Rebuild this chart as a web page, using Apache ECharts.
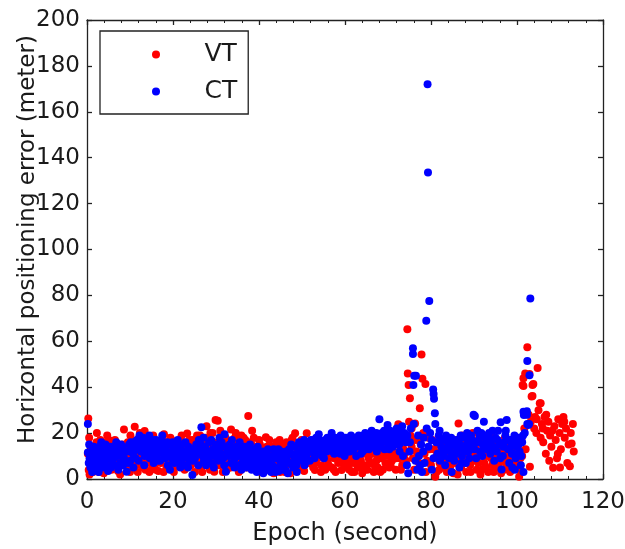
<!DOCTYPE html>
<html>
<head>
<meta charset="utf-8">
<script src="https://cdn.jsdelivr.net/npm/echarts@6/dist/echarts.min.js"></script>
<style>html,body{margin:0;padding:0;background:#fff;}#c{width:625px;height:549px;}</style>
</head>
<body>
<div id="c"></div>
<script>
var seriesNames = ['VT', 'CT'];
var xTicks = [0, 20, 40, 60, 80, 100, 120];
var yTicks = [0, 20, 40, 60, 80, 100, 120, 140, 160, 180, 200];

var vtData = [
[0.3,26.4],[0.2,11],[0.4,3.9],[0.6,2],[0.9,6],[1.1,9],[1.4,3],[1.7,14],[2.0,5],[2.2,16],[2.5,11],[2.8,3],[3.1,17],[3.3,8],[3.6,13],[3.9,2.5],[4.2,16],[4.5,10],[4.8,6],[5.1,17],[5.4,13],[5.7,4],[6.0,9],[6.3,15],[6.6,5],[6.9,12],[7.2,3.5],[7.5,10],[7.8,14],[8.1,6],[8.6,21.6],[8.9,11],[9.2,7],[9.5,16],[9.8,4],[10.1,19],[10.4,9],[10.7,13],[11.1,22.8],[11.4,6],[11.7,17],[12.0,11],[12.3,20],[12.6,8],[12.9,15],[13.4,20.9],[13.6,4],[13.9,10],[14.2,14],[14.5,3],[14.8,18],[15.1,6],[15.4,12],[15.7,5],[16.0,16],[16.3,9],[16.6,3.5],[16.9,13],[17.2,7],[17.5,17],[17.9,19.5],[18.2,11],[18.5,5],[18.8,14],[19.1,8],[19.4,18],[19.7,4],[20.0,12],[20.3,16],[20.6,9],[20.9,6],[21.2,14],[21.5,11],[21.8,17],[22.1,7],[22.4,12],[22.7,4],[23.0,15],[23.3,19.8],[23.6,9],[23.9,13],[24.2,6],[24.5,17],[24.8,10],[25.1,3],[25.4,14],[25.7,8],[26.0,12],[26.3,19],[26.6,5],[26.9,15],[27.2,10],[27.5,18],[27.8,23],[28.1,7],[28.4,13],[28.7,20],[29.0,9],[29.3,16],[29.6,3.2],[29.9,25.7],[30.2,11],[30.4,25.4],[30.7,6],[31.0,14],[31.3,19],[31.6,9],[31.9,17],[32.2,12],[32.5,4],[32.8,15],[33.1,8],[33.5,21.6],[33.8,13],[34.1,6],[34.4,18],[34.7,10],[35.0,15],[35.3,3],[35.6,12],[35.9,19],[36.2,8],[36.5,14],[36.8,17],[37.1,5],[37.5,27.5],[37.8,11],[38.1,16],[38.4,21],[38.7,9],[39.0,14],[39.3,4],[39.6,12],[39.9,7],[40.2,15],[40.5,3],[40.8,10],[41.1,13],[41.6,18.2],[41.9,6],[42.2,11],[42.5,4],[42.8,14],[43.1,8],[43.4,2.5],[43.7,12],[44.0,16],[44.3,6],[44.6,10],[44.9,3],[45.2,15],[45.5,8],[45.8,12],[46.1,5],[46.4,16],[46.7,9],[47.0,13],[47.3,2.5],[47.6,17],[47.9,7],[48.4,19.9],[48.7,11],[49.0,5],[49.3,14],[49.6,8],[49.9,17],[50.2,12],[50.5,3.5],[50.8,10],[51.1,19.9],[51.4,14],[51.7,7],[52.0,16],[52.3,11],[52.6,5],[53.0,3.9],[53.3,13],[53.6,9],[53.9,17],[54.2,12],[54.5,6],[54.8,15],[55.1,10],[55.4,4],[55.7,13],[56.0,8],[56.3,17],[56.6,11],[56.9,5],[57.2,14],[57.5,9],[57.8,3],[58.1,12],[58.4,7],[58.7,16],[59.2,3.9],[59.5,10],[59.8,13],[60.1,6],[60.4,9],[60.7,15],[61.0,4],[61.3,11],[61.6,7],[61.9,14],[62.2,3],[62.5,9],[62.8,12],[63.1,5],[63.4,16],[63.7,8],[64.0,2.5],[64.3,11],[64.6,6],[64.9,13],[65.2,4],[65.5,9],[65.8,15],[66.1,7],[66.4,11],[66.7,3],[67.0,14],[67.3,8],[67.6,5],[67.9,12],[68.2,16],[68.5,9],[68.8,4],[69.1,13],[69.4,7],[69.7,18],[70.0,10],[70.3,5],[70.6,14],[70.9,8],[71.2,17],[71.5,11],[71.8,4],[72.1,15],[72.4,23.9],[72.7,9],[73.0,13],[73.3,6],[73.6,19],[73.9,11],[74.2,16],[74.5,65.2],[74.6,46],[74.8,41],[75.1,35.2],[74.9,25],[75.2,19],[75.5,14],[75.8,9],[76.1,4],[76.3,24.2],[76.6,12],[76.9,17],[77.4,30.8],[77.8,54.2],[78.0,43.7],[78.7,41.4],[77.2,7],[77.6,15],[78.2,20],[78.5,11],[78.8,3],[79.1,8],[79.4,18],[79.7,13],[80.0,6],[80.3,17],[81.0,1],[81.3,10],[81.6,15],[81.9,4],[82.2,12],[82.5,8],[82.8,16],[83.1,5],[83.4,11],[83.7,3],[84.0,14],[84.3,9],[84.6,6],[84.9,12],[85.2,2.5],[85.5,17],[85.8,7],[86.1,10],[86.4,24.2],[86.7,13],[87.0,5],[87.3,19],[87.6,9],[87.9,14],[88.2,3],[88.5,11],[88.8,17],[89.1,6],[89.4,12],[89.7,20],[90.0,8],[90.3,15],[90.6,4],[90.9,10],[91.2,18],[91.5,2],[91.8,4],[92.1,13],[92.4,7],[92.7,16],[93.0,10],[93.3,3],[93.6,12],[93.9,19],[94.2,6],[94.5,14],[94.8,9],[95.1,17],[95.4,5],[95.7,11],[96.0,15],[96.3,2.5],[96.6,8],[96.9,13],[97.2,18],[97.5,6],[97.8,10],[98.1,15],[98.4,3],[98.7,12],[99.0,8],[99.3,16],[99.6,5],[99.9,11],[100.2,14],[100.5,1],[100.8,9],[101.1,18],[101.3,41],[101.5,43.9],[101.5,40.5],[101.9,46],[102.4,57.4],[102.9,45.7],[101.7,22],[102.0,13],[103.0,5.3],[103.4,35.9],[103.6,41],[103.6,36.2],[103.8,41.4],[104.2,27],[104.5,20],[104.8,48.4],[105.0,30],[105.3,33],[105.5,33],[105.8,24],[106.1,16],[106.4,27],[106.7,11],[107.0,21],[107.3,25],[107.7,19],[108.0,14],[108.4,4.9],[108.7,23],[109.0,17],[109.3,9],[109.6,26],[109.9,20],[110.2,13],[110.5,24],[110.8,27],[111.1,18],[111.4,22],[111.7,7],[112.0,15],[112.3,5.6],[112.7,15.5],[113.0,24],[113.2,12],[102.7,28],[103.2,25],[104.0,22],[104.6,26],[105.5,18],[106.0,22],[106.8,28],[107.5,8],[108.2,21],[109.5,11],[110.0,5],[111.0,25],[112.5,20],
[0.5,18],[1.0,13],[1.6,7],[2.3,20],[2.9,9],[3.5,4],[4.1,12],[4.7,19],[5.3,8],[5.9,13],[6.5,17],[7.1,8],[7.7,2],[8.3,15],[8.8,9],[9.4,13],[10.0,3],[10.6,16],[11.2,10],[11.8,3],[12.4,14],[13.0,5],[13.6,17],[14.2,8],[14.8,12],[15.4,19],[16.0,4],[16.6,12],[17.2,15],[17.8,3],[18.4,16],[19.0,12],[19.6,17],[20.2,3],[20.8,15],[21.4,8],[22.0,19],[22.6,10],[23.2,6],[23.8,17],[24.4,12],[25.0,16],[25.6,19],[26.2,8],[26.8,3],[27.4,12],[28.0,16],[28.6,4],[29.2,20],[29.8,11],[30.4,16],[31.0,21],[31.6,3],[32.2,18],[32.8,10],[33.4,5],[34.0,16],[34.6,20],[35.2,8],[35.8,4],[36.4,18],[37.0,12],[37.6,15],[38.2,5],[38.8,18],[39.4,10],[40.0,17],[40.6,6],[41.2,9],[41.8,14],[42.4,17],[43.0,11],[43.6,5],[44.2,13],[44.8,17],[45.4,10],[46.0,3],[46.6,14],[47.2,10],[47.8,18],[48.4,6],[49.0,12],[49.6,15],[50.2,5],[50.8,16],[51.4,9],[52.0,13],[52.6,17],[53.2,7],[53.8,14],[54.4,3],[55.0,11],[55.6,16],[56.2,6],[56.8,13],[57.4,4],[58.0,10],[58.6,13],[59.2,8],[59.8,5],[60.4,12],[61.0,9],[61.6,3],[62.2,13],[62.8,6],[63.4,10],[64.0,14],[64.6,4],[65.2,12],[65.8,7],[66.4,14],[67.0,5],[67.6,10],[68.2,3],[68.8,14],[69.4,11],[70.0,16],[70.6,6],[71.2,12],[71.8,9],[72.4,17],[73.0,4],[73.6,13],[74.2,8],[75.5,22],[76.2,17],[80.6,13],[81.3,3],[82.0,7],[82.6,12],[83.2,9],[83.8,15],[84.4,4],[85.0,8],[85.6,13],[86.2,2],[86.8,9],[87.4,16],[88.0,7],[88.6,13],[89.2,3],[89.8,10],[90.4,13],[91.0,7],[91.6,16],[92.2,10],[92.8,5],[93.4,14],[94.0,9],[94.6,3],[95.2,12],[95.8,7],[96.4,14],[97.0,4],[97.6,12],[98.2,9],[98.8,5],[99.4,13],[100.0,7],[100.6,4],[101.2,10]
];

var ctData = [
[0.2,24],[0.2,11.5],[0.4,7],[0.6,9],[0.8,5],[1.0,12],[1.3,8],[1.5,4],[1.8,10],[2.0,13],[2.3,6],[2.6,9],[2.9,14],[3.1,11],[3.4,7],[3.7,5],[4.0,12],[4.3,15],[4.6,9],[4.9,3.5],[5.2,11],[5.5,14],[5.8,8],[6.1,12],[6.4,6],[6.8,16],[7.1,10],[7.4,13],[7.7,7],[8.0,11],[8.3,14],[8.6,9],[9.2,3.2],[9.5,12],[9.8,15],[10.1,8],[10.4,13],[10.7,11],[11.0,16],[11.3,9],[11.6,17],[11.9,14],[12.2,19],[12.5,12],[12.8,16],[13.1,18],[13.4,10],[13.7,15],[14.0,17],[14.3,13],[14.6,9],[14.9,16],[15.2,12],[15.5,7],[15.8,14],[16.1,17],[16.4,11],[16.7,15],[17.0,8],[17.3,13],[17.6,16],[17.9,10],[18.2,14],[18.5,12],[18.8,6],[19.1,15],[19.4,11],[19.7,9],[20.0,13],[20.3,7],[20.6,12],[20.9,10],[21.2,14],[21.5,8],[21.8,11],[22.1,15],[22.4,9],[22.7,6],[23.0,12],[23.3,10],[23.6,14],[23.9,8],[24.2,11],[24.5,1.7],[24.8,13],[25.1,9],[25.4,15],[25.7,11],[26.0,17],[26.3,13],[26.6,22.5],[26.9,10],[27.2,8],[27.5,14],[27.8,12],[28.1,9],[28.4,16],[28.7,11],[29.0,7],[29.3,13],[29.6,10],[29.9,15],[30.2,12],[30.5,8],[30.8,18],[31.1,11],[31.4,14],[31.7,9],[32.0,19.5],[32.3,3.2],[32.6,12],[32.9,10],[33.2,15],[33.5,7],[33.8,13],[34.1,11],[34.4,9],[34.7,14],[35.0,6],[35.3,12],[35.6,10],[35.9,4],[36.2,13],[36.5,8],[36.8,11],[37.1,5],[37.4,9],[37.7,12],[38.0,7],[38.3,4],[38.6,10],[38.9,6],[39.2,13],[39.5,3],[39.8,8],[40.1,11],[40.4,5],[40.7,9],[41.0,2.5],[41.3,7],[41.6,12],[41.9,4],[42.2,8],[42.5,10],[42.8,3],[43.1,6],[43.4,13],[43.7,9],[44.0,5],[44.3,11],[44.6,3.5],[44.9,8],[45.2,12],[45.5,6],[45.8,10],[46.1,4],[46.4,9],[46.7,2.5],[47.0,13],[47.3,7],[47.6,11],[47.9,5],[48.2,14],[48.5,9],[48.8,3],[49.1,12],[49.4,8],[49.7,15],[50.0,10],[50.3,13],[50.6,6],[50.9,16],[51.2,11],[51.5,14],[51.8,8],[52.1,17],[52.4,12],[52.7,15],[53.0,10],[53.3,18],[53.6,13],[53.9,19.5],[54.2,11],[54.5,16],[54.8,14],[55.1,9],[55.4,17],[55.7,12],[56.0,15],[56.3,18],[56.6,13],[56.9,20],[57.2,16],[57.5,11],[57.8,14],[58.1,17],[58.4,12],[58.7,15],[59.0,19],[59.3,13],[59.6,16],[59.9,10],[60.2,18],[60.5,14],[60.8,17],[61.1,12],[61.4,19],[61.7,15],[62.0,13],[62.3,17],[62.6,10],[62.9,16],[63.2,19],[63.5,14],[63.8,18],[64.1,12],[64.4,16],[64.7,20],[65.0,15],[65.3,18],[65.6,13],[65.9,17],[66.2,21],[66.5,14],[66.8,19],[67.1,16],[67.4,12],[67.7,18],[68.0,26],[68.3,15],[68.6,20],[68.9,17],[69.2,13],[69.5,19],[69.9,23.5],[70.2,16],[70.5,21],[70.8,18],[71.1,14],[71.4,20],[71.7,17],[72.0,22],[72.3,19],[72.6,15],[72.9,21],[73.2,18],[73.5,10],[73.8,20],[74.1,16],[74.4,6],[74.7,2.5],[75.0,12],[75.3,22],[75.8,57],[75.8,54.5],[76.1,45],[76.5,45],[75.9,41],[76.0,24],[76.4,8],[76.8,4],[77.2,10],[77.5,6],[77.9,3],[78.2,12],[78.5,7],[78.9,69],[79.2,172],[79.3,133.5],[79.6,77.6],[79.0,22],[79.4,14],[80.5,39],[80.6,37],[80.7,35],[80.9,28.6],[81.0,24],[80.2,4],[80.6,9],[81.2,16],[81.5,11],[81.8,19],[82.1,8],[82.4,14],[82.7,17],[83.0,10],[83.3,6],[83.6,13],[83.9,16],[84.2,9],[84.5,12],[84.8,3],[85.1,15],[85.4,8],[85.7,11],[86.0,17],[86.3,13],[86.6,5],[86.9,19],[87.2,10],[87.5,14],[87.8,18],[88.1,7],[88.4,20],[88.7,12],[89.0,16],[89.3,19],[89.6,14],[89.9,28],[90.2,27.4],[90.5,9],[90.8,21],[91.1,17],[91.4,12],[91.7,20],[92.0,15],[92.3,25],[92.6,18],[92.9,13],[93.2,16],[93.5,20],[93.8,11],[94.1,17],[94.4,14],[94.7,8],[95.0,18],[95.3,12],[95.6,21],[95.9,15],[96.2,24.7],[96.4,4.1],[96.7,10],[97.0,16],[97.3,19],[97.6,25.7],[97.9,13],[98.2,7],[98.5,17],[98.8,11],[99.1,15],[99.4,19],[99.7,9],[100.0,14],[100.3,18],[100.6,12],[100.9,6],[101.2,16],[101.5,29.3],[101.5,3],[101.6,27.9],[101.8,20],[102.3,29.5],[102.3,28],[102.4,24],[102.8,24],[102.6,23.5],[102.4,51.4],[102.9,45.2],[103.1,78.6],
[0.5,15],[1.2,3],[1.6,14],[2.1,9],[2.7,3],[3.3,16],[3.9,9],[4.4,6],[5.0,14],[5.6,5],[6.2,9],[6.6,13],[7.3,4],[7.9,15],[8.4,6],[8.9,12],[9.6,7],[10.2,16],[10.8,5],[11.4,13],[12.0,8],[12.7,14],[13.3,6],[13.9,12],[14.5,19],[15.1,10],[15.7,17],[16.3,8],[16.9,12],[17.5,19],[18.1,9],[18.7,16],[19.3,4],[19.9,16],[20.5,10],[21.1,17],[21.7,5],[22.3,12],[22.9,16],[23.5,5],[24.1,13],[24.7,8],[25.3,12],[25.9,6],[26.5,15],[27.1,18],[27.7,6],[28.3,12],[28.9,17],[29.5,5],[30.1,14],[30.7,11],[31.3,16],[31.9,6],[32.5,14],[33.1,11],[33.7,17],[34.3,5],[34.9,10],[35.5,16],[36.1,7],[36.7,14],[37.3,11],[37.9,15],[38.5,12],[39.1,9],[39.7,14],[40.3,7],[40.9,12],[41.5,9],[42.1,13],[42.7,6],[43.3,10],[43.9,3],[44.5,13],[45.1,8],[45.7,4],[46.3,12],[46.9,7],[47.5,15],[48.1,10],[48.7,6],[49.3,16],[49.9,12],[50.5,17],[51.1,8],[51.7,13],[52.3,16],[52.9,9],[53.5,14],[54.1,17],[54.7,10],[55.3,14],[55.9,18],[56.5,16],[57.1,12],[57.7,18],[58.3,15],[58.9,11],[59.5,18],[60.1,15],[60.7,12],[61.3,16],[61.9,18],[62.5,14],[63.1,16],[63.7,11],[64.3,19],[64.9,13],[65.5,16],[66.1,19],[66.7,17],[67.3,20],[67.9,14],[68.5,17],[69.1,21],[69.7,16],[70.3,13],[70.9,19],[71.5,15],[72.1,18],[72.7,12],[73.3,23],[73.9,17],[74.5,19],[75.1,16],[77.0,19],[77.7,15],[78.3,18],[79.8,20],[80.1,17],[82.0,21],[82.9,12],[83.5,19],[84.1,14],[84.7,18],[85.3,10],[85.9,14],[86.5,16],[87.1,7],[87.7,12],[88.3,15],[88.9,9],[89.5,17],[90.1,13],[90.7,16],[91.3,19],[91.9,10],[92.5,14],[93.1,19],[93.7,15],[94.3,21],[94.9,13],[95.5,17],[96.1,9],[96.8,14],[97.4,21],[98.0,17],[98.6,14],[99.2,11],[99.8,17],[100.4,15],[101.0,10],[101.4,19],[99.5,4],[98.9,5]
];

var textColor = '#1a1a1a';
var fontFam = 'DejaVu Sans, sans-serif';

var chart = echarts.init(document.getElementById('c'), null, {renderer: 'canvas'});
var axisLineStyle = {color: '#222', width: 1.3};
chart.setOption({
  animation: false,
  backgroundColor: '#fff',
  grid: {left: 87, right: 22, top: 20, bottom: 70, containLabel: false, outerBoundsMode: 'none'},
  legend: {
    data: seriesNames,
    orient: 'vertical',
    left: 100, top: 31,
    padding: [11, 11, 10, 52],
    borderColor: '#222', borderWidth: 1.3,
    backgroundColor: '#fff',
    itemWidth: 87, itemHeight: 8, itemGap: 12,
    icon: 'circle',
    textStyle: {fontFamily: fontFam, fontSize: 25, color: textColor, lineHeight: 24}
  },
  xAxis: [{
    type: 'value', min: 0, max: 120, interval: 20,
    name: 'Epoch (second)', nameLocation: 'middle', nameGap: 43, nameMoveOverlap: false,
    nameTextStyle: {fontFamily: fontFam, fontSize: 24, color: textColor},
    axisLine: {onZero: false, lineStyle: axisLineStyle},
    axisTick: {show: true, inside: true, length: 5, lineStyle: axisLineStyle},
    minorTick: {show: true, splitNumber: 5, length: 3, lineStyle: {color: '#222', width: 1}},
    axisLabel: {fontFamily: fontFam, fontSize: 23, color: textColor, margin: 12,
      formatter: function (v) { return xTicks.indexOf(v) >= 0 ? String(v) : ''; }},
    splitLine: {show: false}
  }, {
    type: 'value', min: 0, max: 120, interval: 20, position: 'top',
    axisLine: {show: true, onZero: false, lineStyle: axisLineStyle},
    axisTick: {show: true, inside: true, length: 5, lineStyle: axisLineStyle},
    minorTick: {show: true, splitNumber: 5, length: 3, lineStyle: {color: '#222', width: 1}},
    axisLabel: {show: false}, splitLine: {show: false}
  }],
  yAxis: [{
    type: 'value', min: 0, max: 200, interval: 20,
    name: 'Horizontal positioning error (meter)', nameLocation: 'middle', nameGap: 47, nameMoveOverlap: false,
    nameTextStyle: {fontFamily: fontFam, fontSize: 23, color: textColor, padding: [0, 0, 0, 20]},
    axisLine: {onZero: false, lineStyle: axisLineStyle},
    axisTick: {show: true, inside: true, length: 5, lineStyle: axisLineStyle},
    axisLabel: {fontFamily: fontFam, fontSize: 23, color: textColor, margin: 7,
      formatter: function (v) { return yTicks.indexOf(v) >= 0 ? String(v) : ''; }},
    splitLine: {show: false}
  }, {
    type: 'value', min: 0, max: 200, interval: 20, position: 'right',
    axisLine: {show: true, onZero: false, lineStyle: axisLineStyle},
    axisTick: {show: true, inside: true, length: 5, lineStyle: axisLineStyle},
    axisLabel: {show: false}, splitLine: {show: false}
  }],
  series: [{
    name: seriesNames[0], type: 'scatter', xAxisIndex: 0, yAxisIndex: 0,
    symbol: 'circle', symbolSize: 8, data: vtData,
    itemStyle: {color: '#ff0000', opacity: 1}
  }, {
    name: seriesNames[1], type: 'scatter', xAxisIndex: 0, yAxisIndex: 0,
    symbol: 'circle', symbolSize: 8, data: ctData,
    itemStyle: {color: '#0000ff', opacity: 1}
  }]
});
</script>
</body>
</html>
